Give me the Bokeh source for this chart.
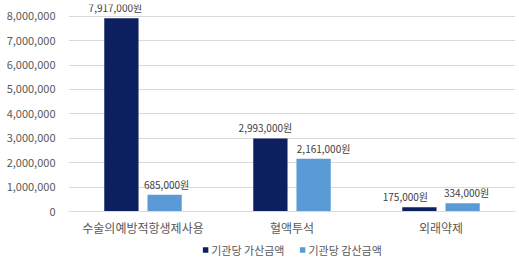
from bokeh.plotting import figure
from bokeh.layouts import column
from bokeh.models import ColumnDataSource, FactorRange, NumeralTickFormatter, FixedTicker, Legend, LegendItem
from bokeh.transform import dodge
from bokeh.core.properties import value
from bokeh.embed import file_html
from bokeh.resources import INLINE

categories = ["수술의예방적항생제사용", "혈액투석", "외래약제"]
add_amount = [7917000, 2993000, 175000]
sub_amount = [685000, 2161000, 334000]
series_names = ["기관당 가산금액", "기관당 감산금액"]
y_ticks = [0, 1000000, 2000000, 3000000, 4000000, 5000000, 6000000, 7000000, 8000000]

# label nudges (pixels), styling only
add_label_dx = [-6, -5, -14]
sub_label_dx = [2, 10, 4]

FONT = "Noto Sans CJK KR"
c1 = "#0c1f5e"
c2 = "#5b9bd5"

src = ColumnDataSource(dict(
    cat=categories,
    add=add_amount,
    sub=sub_amount,
    add_lbl=[f"{v:,}원" for v in add_amount],
    sub_lbl=[f"{v:,}원" for v in sub_amount],
    add_dx=add_label_dx,
    sub_dx=sub_label_dx,
))

p = figure(width=519, height=238, x_range=FactorRange(factors=categories, range_padding=0),
           y_range=(0, 8480000), output_backend="svg", toolbar_location=None,
           min_border_left=68, min_border_right=4, min_border_top=4, min_border_bottom=20)

w = 0.23
off = 0.145
r1 = p.vbar(x=dodge("cat", -off, range=p.x_range), top="add", width=w, source=src, color=c1, line_color=None)
r2 = p.vbar(x=dodge("cat", off, range=p.x_range), top="sub", width=w, source=src, color=c2, line_color=None)

for xoff, col, lbl, dx in [(-off, "add", "add_lbl", "add_dx"), (off, "sub", "sub_lbl", "sub_dx")]:
    p.text(x=dodge("cat", xoff, range=p.x_range), y=col, text=lbl, source=src,
           text_font=value(FONT), text_font_size="10px", text_color="#404040",
           text_align="center", text_baseline="bottom", y_offset=-3, x_offset=dx)

p.outline_line_color = None
p.xgrid.grid_line_color = None
p.ygrid.grid_line_color = "#d9d9d9"
p.yaxis.ticker = FixedTicker(ticks=y_ticks)
p.yaxis.formatter = NumeralTickFormatter(format="0,0")
p.yaxis.axis_line_color = None
p.yaxis.major_tick_line_color = None
p.yaxis.minor_tick_line_color = None
p.yaxis.major_tick_out = 0
p.yaxis.major_tick_in = 0
p.yaxis.major_label_text_font = FONT
p.yaxis.major_label_text_font_size = "11px"
p.yaxis.major_label_text_color = "#595959"
p.yaxis.major_label_standoff = 13

p.xaxis.axis_line_color = "#d9d9d9"
p.xaxis.major_tick_line_color = None
p.xaxis.minor_tick_line_color = None
p.xaxis.major_tick_out = 0
p.xaxis.major_tick_in = 0
p.xaxis.major_label_text_font = FONT
p.xaxis.major_label_text_font_size = "12px"
p.xaxis.major_label_text_color = "#595959"
p.xaxis.major_label_standoff = 7

# legend strip
lg = figure(width=519, height=23, x_range=(0, 1), y_range=(0, 1), output_backend="svg",
            toolbar_location=None, min_border=0, outline_line_color=None)
lg.axis.visible = False
lg.grid.visible = False
dummy = ColumnDataSource(dict(x=[0.5], top=[0]))
d1 = lg.vbar(x="x", top="top", width=0.0, source=dummy, color=c1, line_color=None, fill_alpha=1)
d2 = lg.vbar(x="x", top="top", width=0.0, source=dummy, color=c2, line_color=None, fill_alpha=1)
legend = Legend(items=[LegendItem(label=series_names[0], renderers=[d1]),
                       LegendItem(label=series_names[1], renderers=[d2])],
                orientation="horizontal", location="center",
                label_text_font=FONT, label_text_font_size="11px", label_text_color="#595959",
                glyph_width=7, glyph_height=7, spacing=14, padding=2, margin=0,
                border_line_color=None, background_fill_alpha=0, label_standoff=3,
                label_height=12)
lg.add_layout(legend)

layout = column(p, lg, spacing=0)
open("out.html", "w").write(file_html(layout, INLINE))
